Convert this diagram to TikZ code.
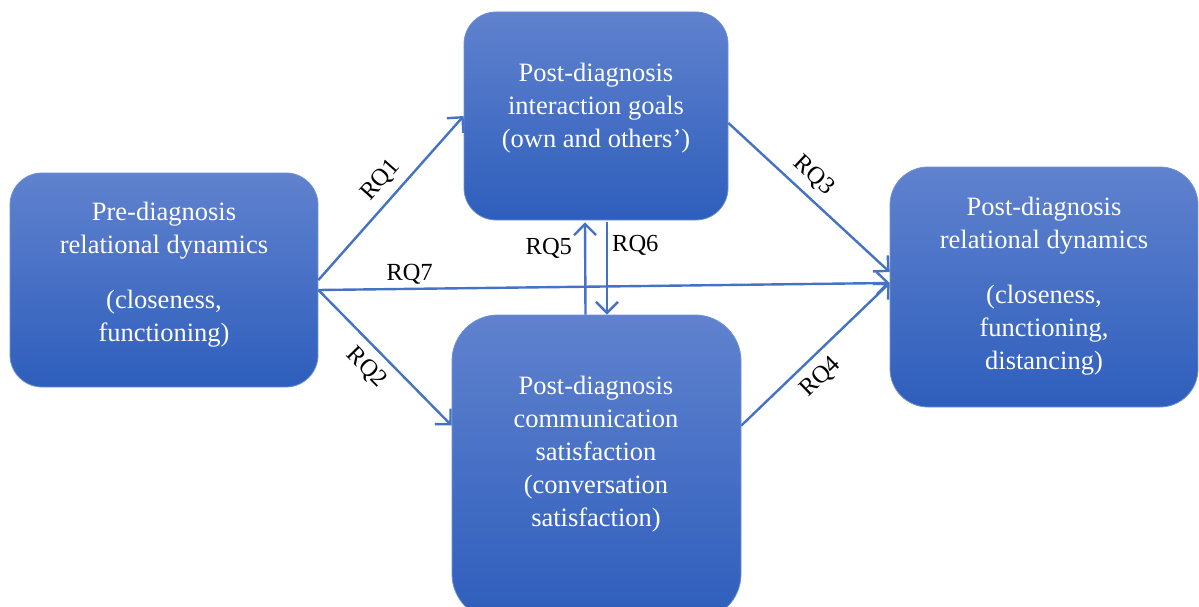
\documentclass[tikz,border=0pt]{standalone}
\usepackage{fontspec}
\setmainfont{Liberation Serif}
\usetikzlibrary{arrows.meta,positioning}

\definecolor{linkblue}{RGB}{68,114,196}
\definecolor{boxtop}{RGB}{96,130,206}
\definecolor{boxbottom}{RGB}{46,94,188}
\definecolor{boxedge}{RGB}{112,144,212}

\begin{document}
\begin{tikzpicture}[
			x=1pt, y=-1pt,
			box/.style={rectangle, draw=boxedge, line width=0.8pt, top color=boxtop, bottom color=boxbottom, inner sep=0pt},
			boxtext/.style={text=white, align=center, font=\fontsize{26.5}{33}\selectfont},
			link/.style={draw=linkblue, line width=2.4pt, -{Straight Barb[length=11pt,width=22pt]}},
			rq/.style={font=\fontsize{24.5}{28}\selectfont, text=black, inner sep=3pt}
		]

		\clip (0,0) rectangle (1199,607);

		% Boxes
		\node (pre) [box, minimum width=308pt, minimum height=214pt, rounded corners=32pt] at (164,280) {};
		\node (goals) [box, minimum width=264pt, minimum height=208pt, rounded corners=32pt] at (596,116) {};
		\node (satis) [box, minimum width=289pt, minimum height=305pt, rounded corners=46pt] at (596.5,467.5) {};
		\node (post) [box, minimum width=308pt, minimum height=240pt, rounded corners=38pt] at (1044,287) {};

		% Box texts
		\node (pretext) [boxtext] at (164,274.5) {Pre-diagnosis\\relational dynamics\\[22pt](closeness,\\functioning)};
		\node (goalstext) [boxtext] at (596,108) {Post-diagnosis\\interaction goals\\(own and others’)};
		\node (satistext) [boxtext] at (596,454) {Post-diagnosis\\communication\\satisfaction\\(conversation\\satisfaction)};
		\node (posttext) [boxtext] at (1044,286.5) {Post-diagnosis\\relational dynamics\\[22pt](closeness,\\functioning,\\distancing)};

		% Connections
		\draw [link] (pre.east) -- node[rq, sloped, above, pos=0.53, inner sep=8pt] {RQ1} (goals.west);
		\draw [link] ([yshift=-10pt]pre.east) -- node[rq, sloped, below, pos=0.47, inner sep=9pt] {RQ2} ([yshift=42pt]satis.west);
		\draw [link] ([yshift=-7pt]goals.east) -- node[rq, sloped, above, pos=0.45, inner sep=8pt] {RQ3} ([yshift=15pt]post.west);
		\draw [link] ([yshift=42pt]satis.east) -- node[rq, sloped, below, pos=0.44, inner sep=9pt] {RQ4} ([yshift=4pt]post.west);
		\draw [link] ([xshift=-11pt]satis.north) -- node[rq, left, pos=0.72, inner sep=12pt] {RQ5} ([xshift=-11pt,yshift=-2pt]goals.south);
		\draw [link] ([xshift=11pt,yshift=-2pt]goals.south) -- node[rq, right, pos=0.25, inner sep=4pt] {RQ6} ([xshift=10.5pt]satis.north);
		\draw [link] ([yshift=-10pt]pre.east) -- node[rq, sloped, above, pos=0.16] {RQ7} ([yshift=4pt]post.west);

	\end{tikzpicture}
\end{document}
